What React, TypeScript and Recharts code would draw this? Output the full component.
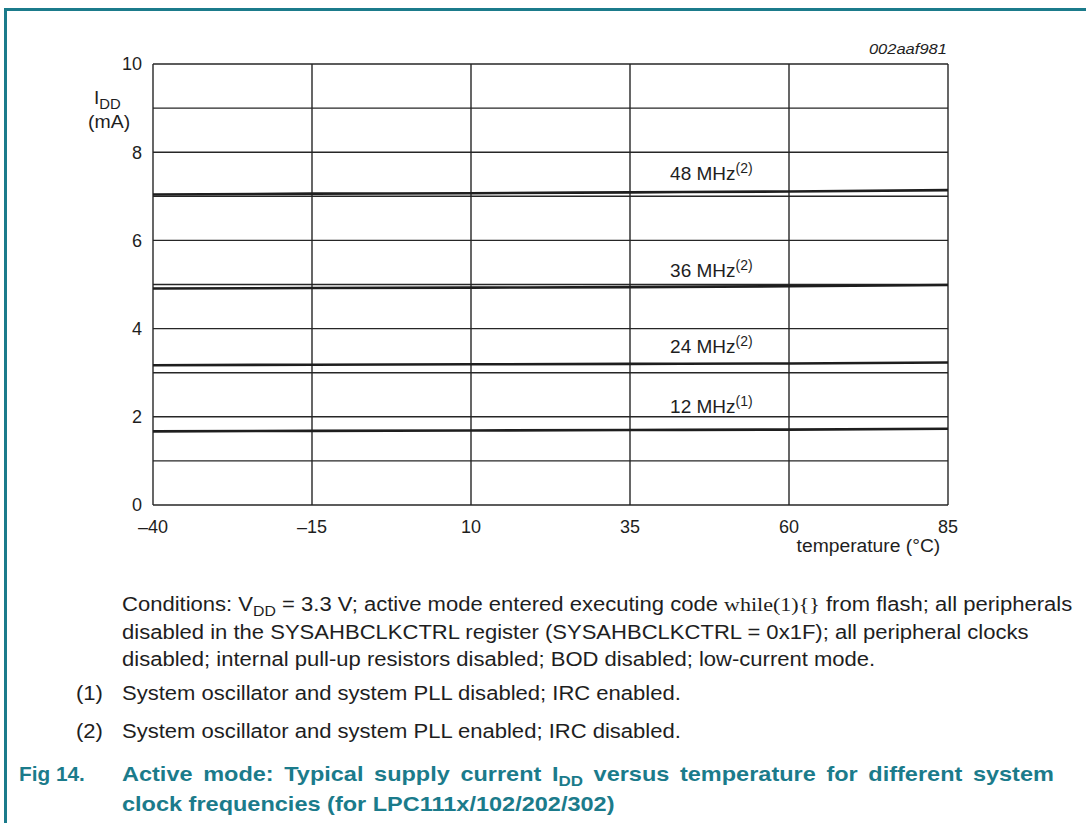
import React from 'react';
import { LineChart, Line, XAxis, YAxis, CartesianGrid, ReferenceDot } from 'recharts';

// temperature (°C)
const temps = [-40, -15, 10, 35, 60, 85];
// supply current IDD (mA) per system clock frequency
const idd12 = [1.67, 1.68, 1.69, 1.7, 1.71, 1.73];
const idd24 = [3.17, 3.18, 3.19, 3.2, 3.21, 3.23];
const idd36 = [4.91, 4.92, 4.93, 4.94, 4.96, 4.99];
const idd48 = [7.04, 7.06, 7.07, 7.09, 7.11, 7.14];

const xTicks = [-40, -15, 10, 35, 60, 85];
const yTicks = [0, 1, 2, 3, 4, 5, 6, 7, 8, 9, 10];

const curveLabels = [
  { name: '48 MHz', note: '(2)', t: 41.3, v: 7.37 },
  { name: '36 MHz', note: '(2)', t: 41.3, v: 5.17 },
  { name: '24 MHz', note: '(2)', t: 41.3, v: 3.45 },
  { name: '12 MHz', note: '(1)', t: 41.3, v: 2.09 },
];

const rows = temps.map((t, i) => ({
  t,
  f12: idd12[i],
  f24: idd24[i],
  f36: idd36[i],
  f48: idd48[i],
}));

const FONT = '"Liberation Sans", Arial, Helvetica, sans-serif';
const TEAL = '#1b7b8b';
const INK = '#1e1e1e';

const fmtX = (v: number) => (v < 0 ? `\u2013${Math.abs(v)}` : `${v}`);
const fmtY = (v: number) => (v % 2 === 0 ? `${v}` : '');

const curveLabel = (name: string, note: string) => (props: any) => {
  const { viewBox } = props;
  return (
    <text x={viewBox.x} y={viewBox.y} fill={INK} fontSize={19} fontFamily={FONT}>
      {name}
      <tspan fontSize={14} dy={-7}>{note}</tspan>
    </text>
  );
};

// the printed figure is slightly wider than plain Arial
const wide = (sx: number, origin = 'left top'): React.CSSProperties => ({
  transform: `scaleX(${sx})`,
  transformOrigin: origin,
  whiteSpace: 'nowrap',
});

const Sub = ({ children, size = 14 }: { children: React.ReactNode; size?: number }) => (
  <span style={{ fontSize: size, position: 'relative', top: 5, lineHeight: 0 }}>{children}</span>
);

export default function App() {
  return (
    <div
      style={{
        position: 'absolute',
        left: 0,
        top: 0,
        width: 1086,
        height: 823,
        background: '#fff',
        overflow: 'hidden',
        fontFamily: FONT,
        color: INK,
      }}
    >
      {/* figure frame */}
      <div style={{ position: 'absolute', left: 4, top: 8, width: 1082, height: 3, background: TEAL }} />
      <div style={{ position: 'absolute', left: 4, top: 8, width: 3, height: 815, background: TEAL }} />

      <div style={{ position: 'absolute', left: 0, top: 0 }}>
        <LineChart width={1086} height={580} data={rows} margin={{ top: 64, right: 138, bottom: 45, left: 93 }}>
          <CartesianGrid stroke="#262626" strokeWidth={1.4} />
          <XAxis
            dataKey="t"
            type="number"
            domain={[-40, 85]}
            ticks={xTicks}
            tickFormatter={fmtX}
            axisLine={false}
            tickLine={false}
            tickSize={0}
            tickMargin={15}
            height={30}
            interval={0}
            tick={{ fill: INK, fontSize: 18, fontFamily: FONT }}
          />
          <YAxis
            type="number"
            domain={[0, 10]}
            ticks={yTicks}
            tickFormatter={fmtY}
            axisLine={false}
            tickLine={false}
            tickSize={0}
            tickMargin={11}
            width={60}
            interval={0}
            tick={{ fill: INK, fontSize: 18, fontFamily: FONT }}
          />
          <Line dataKey="f48" type="monotone" stroke={INK} strokeWidth={2.6} dot={false} isAnimationActive={false} />
          <Line dataKey="f36" type="monotone" stroke={INK} strokeWidth={2.6} dot={false} isAnimationActive={false} />
          <Line dataKey="f24" type="monotone" stroke={INK} strokeWidth={2.6} dot={false} isAnimationActive={false} />
          <Line dataKey="f12" type="monotone" stroke={INK} strokeWidth={2.6} dot={false} isAnimationActive={false} />
          {curveLabels.map((c) => (
            <ReferenceDot
              key={c.name}
              x={c.t}
              y={c.v}
              r={0}
              stroke="none"
              fill="none"
              label={{ content: curveLabel(c.name, c.note) }}
            />
          ))}
        </LineChart>
      </div>

      {/* figure id */}
      <div style={{ position: 'absolute', right: 139, top: 40, fontSize: 15, fontStyle: 'italic', ...wide(1.1, 'right top') }}>
        002aaf981
      </div>

      {/* y axis title */}
      <div style={{ position: 'absolute', left: 94, top: 88, fontSize: 18, lineHeight: '20px', ...wide(1.06) }}>
        I<Sub>DD</Sub>
      </div>
      <div style={{ position: 'absolute', left: 88, top: 112, fontSize: 18, lineHeight: '20px', ...wide(1.08) }}>(mA)</div>

      {/* x axis title */}
      <div style={{ position: 'absolute', right: 146, top: 535, fontSize: 18, lineHeight: '22px', ...wide(1.07, 'right top') }}>
        temperature (°C)
      </div>

      {/* conditions */}
      <div
        style={{
          position: 'absolute',
          left: 122,
          top: 591,
          fontSize: 19.5,
          lineHeight: '27.5px',
          ...wide(1.13),
        }}
      >
        Conditions: V<Sub>DD</Sub> = 3.3 V; active mode entered executing code{' '}
        <span style={{ fontFamily: '"Liberation Serif", "Times New Roman", serif' }}>while(1){'{}'}</span> from flash; all
        peripherals
        <br />
        disabled in the SYSAHBCLKCTRL register (SYSAHBCLKCTRL = 0x1F); all peripheral clocks
        <br />
        disabled; internal pull-up resistors disabled; BOD disabled; low-current mode.
      </div>

      {/* notes */}
      <div style={{ position: 'absolute', left: 76, top: 680, fontSize: 19.5, lineHeight: '27px', ...wide(1.13) }}>(1)</div>
      <div style={{ position: 'absolute', left: 122, top: 680, fontSize: 19.5, lineHeight: '27px', ...wide(1.13) }}>
        System oscillator and system PLL disabled; IRC enabled.
      </div>
      <div style={{ position: 'absolute', left: 76, top: 718, fontSize: 19.5, lineHeight: '27px', ...wide(1.13) }}>(2)</div>
      <div style={{ position: 'absolute', left: 122, top: 718, fontSize: 19.5, lineHeight: '27px', ...wide(1.13) }}>
        System oscillator and system PLL enabled; IRC disabled.
      </div>

      {/* caption */}
      <div style={{ position: 'absolute', left: 19, top: 759, fontSize: 20.8, lineHeight: '30px', fontWeight: 'bold', color: TEAL }}>
        Fig 14.
      </div>
      <div
        style={{
          position: 'absolute',
          left: 122,
          top: 759,
          fontSize: 20.8,
          lineHeight: '30px',
          fontWeight: 'bold',
          color: TEAL,
          ...wide(1.13),
        }}
      >
        <span style={{ wordSpacing: 3.6 }}>
          Active mode: Typical supply current I<Sub size={15}>DD</Sub> versus temperature for different system
        </span>
        <br />
        clock frequencies (for LPC111x/102/202/302)
      </div>
    </div>
  );
}
